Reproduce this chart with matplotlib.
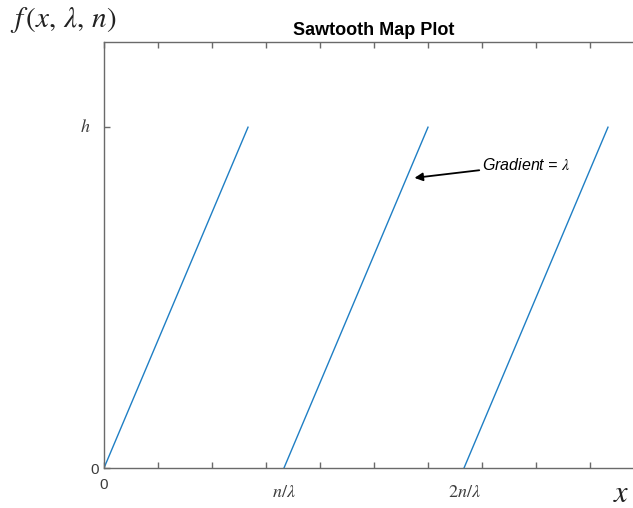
import matplotlib.pyplot as plt
from matplotlib import transforms

# sawtooth parameters and the tooth end points (x, f) for each period
lam = 0.3
tooth_x = [[0.0, 2.667], [3.333, 6.0], [6.667, 9.333]]
tooth_y = [[0.0, 0.8], [0.0, 0.8], [0.0, 0.8]]
period_pos = [3.333, 6.667]
period_txt = [r'$n/\lambda$', r'$2n/\lambda$']

plt.rcParams['mathtext.fontset'] = 'stix'
axis_col = '#6a6a6a'
text_col = '#3c3c3c'

fig = plt.figure(figsize=(6.33, 5.08), dpi=100)
ax = fig.add_axes([104 / 633, 40 / 508, 540 / 633, 426 / 508])

for xs, ys in zip(tooth_x, tooth_y):
    ax.plot(xs, ys, color='#1f7fc4', lw=1.0)

ax.set_xlim(0, 10)
ax.set_ylim(0, 1)

ax.set_xticks(range(0, 11))
ax.set_xticklabels(['0'] + [''] * 10)
ax.set_yticks([0, 0.8])
ax.set_yticklabels(['0', ''])
ax.tick_params(direction='in', length=4, width=1, color=axis_col,
               labelcolor=text_col, labelsize=11, top=True, right=False)
ax.tick_params(axis='x', pad=7)
for lbl in ax.get_xticklabels() + ax.get_yticklabels():
    lbl.set_family('Liberation Sans')

for s in ['left', 'bottom', 'top']:
    ax.spines[s].set_color(axis_col)
    ax.spines[s].set_linewidth(1)
ax.spines['right'].set_visible(False)

# period labels under the axis
xt = transforms.blended_transform_factory(ax.transData, ax.transAxes)
for p, t in zip(period_pos, period_txt):
    ax.text(p, -0.035, t, transform=xt, ha='center', va='top',
            fontsize=13, color=text_col)

# h label on the y axis
yt = transforms.blended_transform_factory(ax.transAxes, ax.transData)
ax.text(-0.025, 0.8, r'$h$', transform=yt, ha='right', va='center',
        fontsize=13, color=text_col)

ax.set_title('Sawtooth Map Plot', fontsize=13, fontweight='bold',
             family='Liberation Sans', color='black', pad=5)

fig.text(10 / 633, 1 - 20 / 508, r'$f\,(x,\,\lambda,\,n)$', fontsize=21,
         ha='left', va='center', color='#222222')
fig.text(613 / 633, 1 - 494 / 508, r'$x$', fontsize=22,
         ha='left', va='center', color='#222222')

ax.annotate(r'Gradient = $\mathit{\lambda}$', xy=(5.75, 0.681), xytext=(7.0, 0.712),
            fontsize=11.5, style='italic', family='Liberation Sans', va='center',
            arrowprops=dict(arrowstyle='-|>', color='black', lw=1.3,
                            mutation_scale=12, shrinkA=0, shrinkB=0))

fig.savefig('out.png', dpi=100)
